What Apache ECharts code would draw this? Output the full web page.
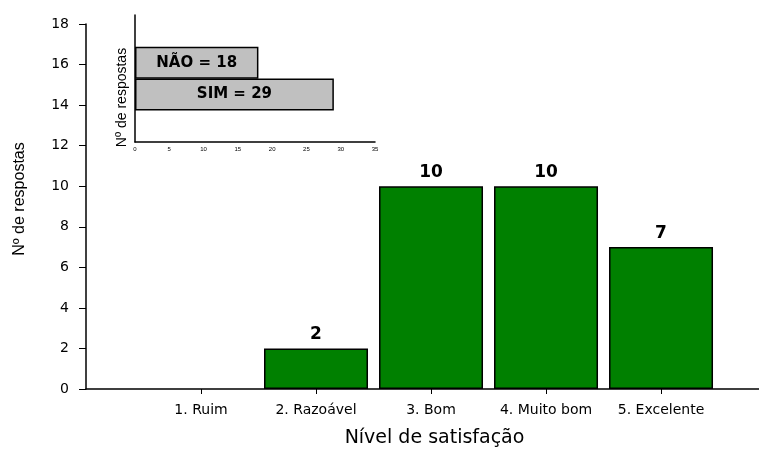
<!DOCTYPE html>
<html>
<head>
<meta charset="utf-8">
<script src="https://cdn.jsdelivr.net/npm/echarts@6/dist/echarts.min.js"></script>
<style>html,body{margin:0;padding:0;background:#fff}#c{width:759px;height:449px}</style>
</head>
<body>
<div id="c"></div>
<script>
var categories = ['1. Ruim', '2. Razoável', '3. Bom', '4. Muito bom', '5. Excelente'];
var values = [0, 2, 10, 10, 7];
var yTicks = [0, 2, 4, 6, 8, 10, 12, 14, 16, 18];
var insetCategories = ['SIM', 'NÃO'];
var insetValues = [29, 18];
var insetTicks = [0, 5, 10, 15, 20, 25, 30, 35];

var font = 'Liberation Sans, Arial, sans-serif';
var wfont = 'DejaVu Sans, sans-serif';
var mainData = categories.map(function (c, i) {
  var item = { value: [i + 1, values[i]] };
  if (values[i] === 0) { item.itemStyle = { borderWidth: 0 }; }
  return item;
});
var insetAxisCats = [''].concat(insetCategories, ['']);
var insetData = insetCategories.map(function (c, i) { return [insetValues[i], i + 1]; });

var chart = echarts.init(document.getElementById('c'));
chart.setOption({
  animation: false,
  grid: [
    { left: 86, right: 0, top: 24, bottom: 60, outerBoundsMode: 'none', containLabel: false },
    { left: 135, top: 15, width: 240, height: 127, outerBoundsMode: 'none', containLabel: false }
  ],
  xAxis: [
    {
      gridIndex: 0, type: 'value', min: 0, max: 5.852,
      splitLine: { show: false },
      axisLine: { show: true, lineStyle: { color: '#000', width: 1.5 } },
      axisTick: { show: true, customValues: [1, 2, 3, 4, 5], length: 5, lineStyle: { color: '#000' } },
      axisLabel: {
        customValues: [1, 2, 3, 4, 5], color: '#000', fontFamily: wfont, fontSize: 14, margin: 14,
        formatter: function (v) { return categories[Math.round(v) - 1] || ''; }
      },
      name: 'Nível de satisfação', nameLocation: 'middle', nameGap: 40,
      nameTextStyle: { color: '#000', fontFamily: wfont, fontSize: 19, padding: [0, 0, 0, 24] }
    },
    {
      gridIndex: 1, type: 'value', min: 0, max: 35, interval: 5,
      splitLine: { show: false },
      axisLine: { show: true, lineStyle: { color: '#000', width: 1.5 } },
      axisTick: { show: false },
      axisLabel: { color: '#000', fontFamily: font, fontSize: 6, margin: 4 }
    }
  ],
  yAxis: [
    {
      gridIndex: 0, type: 'value', min: 0, max: 18, interval: 2,
      splitLine: { show: false },
      axisLine: { show: true, lineStyle: { color: '#000', width: 1.5 } },
      axisTick: { show: true, length: 7, lineStyle: { color: '#000' } },
      axisLabel: { color: '#000', fontFamily: wfont, fontSize: 14, margin: 17 },
      name: 'Nº de respostas', nameLocation: 'middle', nameGap: 58,
      nameTextStyle: { color: '#000', fontFamily: font, fontSize: 16, padding: [0, 0, 0, 15] }
    },
    {
      gridIndex: 1, type: 'category', data: insetAxisCats,
      splitLine: { show: false },
      axisLine: { show: true, lineStyle: { color: '#000', width: 1.5 } },
      axisTick: { show: false },
      axisLabel: { show: false },
      name: 'Nº de respostas', nameLocation: 'middle', nameGap: 6,
      nameTextStyle: { color: '#000', fontFamily: font, fontSize: 14, padding: [0, 38, 0, 0] }
    }
  ],
  series: [
    {
      type: 'bar', xAxisIndex: 0, yAxisIndex: 0, data: mainData, barWidth: 104,
      itemStyle: { color: '#008000', borderColor: '#000', borderWidth: 1.5 },
      label: {
        show: true, position: 'top', distance: 5, color: '#000', fontFamily: wfont,
        fontSize: 17, fontWeight: 'bold',
        formatter: function (p) { return p.value[1] === 0 ? '' : String(p.value[1]); }
      }
    },
    {
      type: 'bar', xAxisIndex: 1, yAxisIndex: 1, data: insetData, barWidth: 32,
      itemStyle: { color: '#c0c0c0', borderColor: '#000', borderWidth: 1.5 },
      label: {
        show: true, position: 'inside', color: '#000', fontFamily: wfont,
        fontSize: 15, fontWeight: 'bold',
        formatter: function (p) { return insetCategories[p.dataIndex] + ' = ' + p.value[0]; }
      }
    }
  ]
});
</script>
</body>
</html>
